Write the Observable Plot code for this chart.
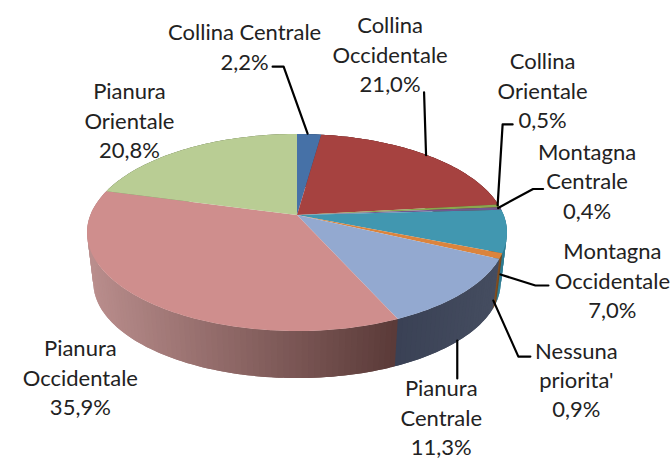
<!DOCTYPE html>
<html>
<head>
<meta charset="utf-8">
<style>
html,body{margin:0;padding:0;background:#fff}
svg{display:block}
</style>
<script src="https://cdn.jsdelivr.net/npm/d3@7"></script>
<script src="https://cdn.jsdelivr.net/npm/@observablehq/plot@0.6"></script>
</head>
<body>
<div id="chart"></div>
<script>
// ---- data ----
const categories = ["Collina Centrale","Collina\nOccidentale","Collina\nOrientale","Montagna\nCentrale","Montagna\nOccidentale","Nessuna\npriorita'","Pianura\nCentrale","Pianura\nOccidentale","Pianura\nOrientale"];
const shares = [2.2,21.0,0.5,0.4,7.0,0.9,11.3,35.9,20.8];
// ---- colours ----
const topColors = ["#4671a7","#a64240","#8aa64e","#71588f","#4197b0","#db843d","#93a9d0","#cf8e8d","#b9cd94"];
const wallLeft  = ["#2c466a","#6b2a29","#58692f","#47375b","#2f7c92","#8a5222","#3a4155","#ba8e8d","#7a8862"];
const wallRight = ["#2c466a","#6b2a29","#58692f","#47375b","#2f7c92","#6f4218","#454d60","#5a3a38","#7a8862"];
// ---- layout: pixel offsets from each slice's rim point ----
const labelDx = [-65,-39,43,86,105,75,-22,-62,-58];
const labelDy = [-89,-103,-117,-29,48,122,123,77,-30];
const leaders = [
  [[-2,-1],[-26,-68],[-37,-68]],
  [[-3,-1],[-5,-64]],
  [[-2,-1],[3,-82],[13,-82]],
  [[-3,-1],[32,-20],[42,-20]],
  [[-7,43],[28,54],[41,54]],
  [[-8,44],[17,100],[29,100]],
  [[-6,47],[-6,85]],
  [],
  []
];
// ---- perspective of the pie ----
const W = 671, H = 459;
const cx = 297, cy = 215, sx = 206.6, sy = 95.4, tilt = 0.178;
const shrink = 0.97, drop = 50.5 / sy;
const rim = (m) => {
  const t = 2 * Math.PI * m, u = Math.sin(t), v = Math.cos(t), w = 1 + tilt * v;
  return [u / w, v / w];
};
const base = ([a, b]) => [a * shrink, b * shrink - drop];

const ends = d3.cumsum(shares).map((d) => d / 100);
const starts = ends.map((d, i) => (i ? ends[i - 1] : 0));
const mids = starts.map((s, i) => (s + ends[i]) / 2);
const stepsIn = (s, e, size) => {
  const n = Math.max(2, Math.ceil((e - s) / size));
  return d3.range(n + 1).map((k) => s + ((e - s) * k) / n);
};

// top faces
const topRows = categories.flatMap((c, i) =>
  stepsIn(starts[i], ends[i], 0.004).map((m) => {
    const [a, b] = rim(m);
    return {id: i, a, b, color: topColors[i]};
  })
);

// wall strips, back to front; each strip runs under the next one so no seam shows
const order = d3.range(categories.length).sort((p, q) => Math.cos(2 * Math.PI * mids[q]) - Math.cos(2 * Math.PI * mids[p]));
let stripId = 0;
const wallRows = order.flatMap((i) => {
  const ms = stepsIn(starts[i], ends[i], 0.004);
  const xs = ms.map((m) => rim(m)[0]);
  const [lo, hi] = d3.extent(xs);
  const mix = d3.interpolateRgb(wallLeft[i], wallRight[i]);
  const forward = ms.slice(1).map((m, k) => k);
  return forward.flatMap((k) => {
    const color = mix(hi > lo ? ((xs[k] + xs[k + 1]) / 2 - lo) / (hi - lo) : 0);
    const id = stripId++;
    const last = k + 2 < ms.length ? ms[k + 2] : ms[k + 1] + 0.003;
    return [ms[k], ms[k + 1], last].map((q) => {
      const p = rim(q), g = base(p);
      return {id, a1: p[0], b1: p[1], a2: g[0], b2: g[1], color};
    });
  });
});

const fromPx = (i, [dx, dy]) => {
  const [a, b] = rim(mids[i]);
  return [a + dx / sx, b - dy / sy];
};
const labelRows = categories.map((c, i) => {
  const [a, b] = fromPx(i, [labelDx[i], labelDy[i]]);
  return {a, b, text: `${c}\n${shares[i].toFixed(1).replace(".", ",")}%`};
});
const leaderRows = leaders.flatMap((pts, i) =>
  pts.map((p) => {
    const [a, b] = fromPx(i, p);
    return {id: i, a, b};
  })
);

const chart = Plot.plot({
  width: W,
  height: H,
  margin: 0,
  style: {background: "#fff"},
  x: {domain: [-cx / sx, (W - cx) / sx], range: [0, W], axis: null},
  y: {domain: [cy / sy, (cy - H) / sy], range: [0, H], axis: null},
  color: {type: "identity"},
  marks: [
    Plot.area(wallRows, {x1: "a1", y1: "b1", x2: "a2", y2: "b2", z: "id", fill: "color"}),
    Plot.area(topRows, {x1: "a", y1: "b", x2: () => 0, y2: () => 0, z: "id", fill: "color"}),
    Plot.line(leaderRows, {x: "a", y: "b", z: "id", stroke: "#000", strokeWidth: 2.2, curve: "linear"}),
    Plot.text(labelRows, {x: "a", y: "b", text: "text", fontFamily: "Lato", fontSize: 22, lineHeight: 1.34, fill: "#222", textAnchor: "middle", lineAnchor: "middle"})
  ]
});
document.getElementById("chart").appendChild(chart);
</script>
</body>
</html>
